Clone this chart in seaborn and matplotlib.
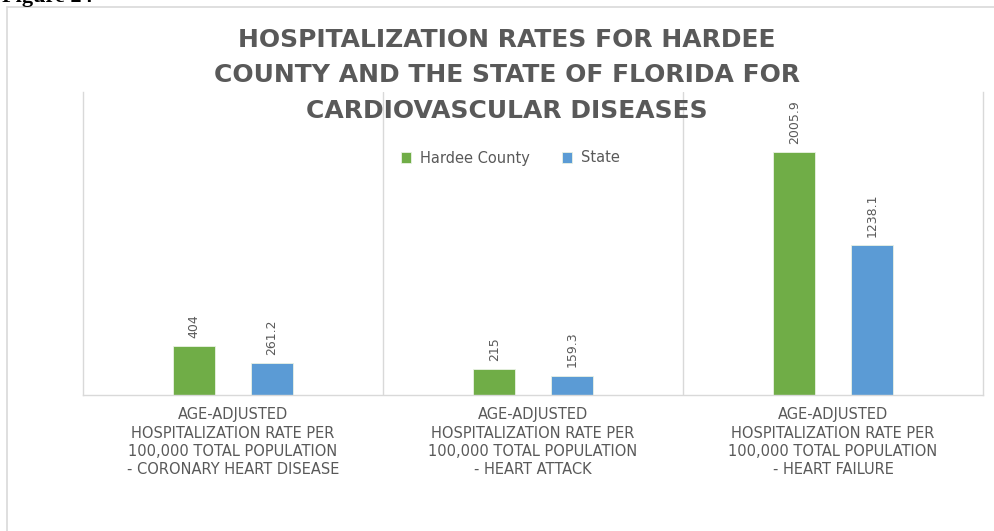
import matplotlib
matplotlib.use("Agg")
import matplotlib.pyplot as plt
from matplotlib.lines import Line2D
import seaborn as sns
import pandas as pd

# Chart data
categories = [
    "AGE-ADJUSTED\nHOSPITALIZATION RATE PER\n100,000 TOTAL POPULATION\n- CORONARY HEART DISEASE",
    "AGE-ADJUSTED\nHOSPITALIZATION RATE PER\n100,000 TOTAL POPULATION\n- HEART ATTACK",
    "AGE-ADJUSTED\nHOSPITALIZATION RATE PER\n100,000 TOTAL POPULATION\n- HEART FAILURE",
]
series_names = ["Hardee County", "State"]
hardee_values = [404, 215, 2005.9]
state_values = [261.2, 159.3, 1238.1]
value_labels = [["404", "215", "2005.9"], ["261.2", "159.3", "1238.1"]]
title_lines = ["HOSPITALIZATION RATES FOR HARDEE",
               "COUNTY AND THE STATE OF FLORIDA FOR",
               "CARDIOVASCULAR DISEASES"]

df = pd.DataFrame({
    "category": categories * 2,
    "series": [series_names[0]] * 3 + [series_names[1]] * 3,
    "value": hardee_values + state_values,
})

sns.set_style("white")
plt.rcParams["font.family"] = ["DejaVu Sans"]

text_gray = "#595959"
grid_gray = "#D9D9D9"
colors = {"Hardee County": "#70AD47", "State": "#5B9BD5"}

fig = plt.figure(figsize=(9.94, 5.31), dpi=100)
ax = fig.add_axes([83 / 994, 136 / 531, 900 / 994, 303 / 531])

sns.barplot(data=df, x="category", y="value", hue="series",
            order=categories, hue_order=series_names, palette=colors,
            saturation=1, width=0.516, gap=0.457,
            edgecolor="#EAF2E4", linewidth=0.6, ax=ax)

# value labels above bars
for cont, labels in zip(ax.containers, value_labels):
    ax.bar_label(cont, labels=labels, rotation=90, padding=6,
                 fontsize=9, color=text_gray)

ax.set_ylim(0, 2500)
ax.set_xlim(-0.5, 2.5)
ax.set_yticks([])
ax.set_xlabel("")
ax.set_ylabel("")
ax.set_xticks([0.5, 1.5], minor=True)
ax.grid(which="minor", axis="x", color=grid_gray, linewidth=1)
ax.tick_params(axis="x", which="both", length=0, pad=9,
               labelsize=10.5, labelcolor=text_gray)
for lbl in ax.get_xticklabels():
    lbl.set_linespacing(1.25)
ax.spines["top"].set_visible(False)
for s in ["left", "right", "bottom"]:
    ax.spines[s].set_color(grid_gray)
    ax.spines[s].set_linewidth(1)

# legend
ax.legend(loc="center", bbox_to_anchor=(510 / 994, 1 - 158 / 531),
          bbox_transform=fig.transFigure, ncol=2, frameon=False,
          handlelength=0.7, handleheight=0.7, handletextpad=0.6,
          columnspacing=2.2, fontsize=10.5, labelcolor=text_gray)

# title, one text per line
for line, ypix in zip(title_lines, [40, 75, 111]):
    fig.text(507 / 994, 1 - ypix / 531, line, ha="center", va="center",
             fontsize=18, fontweight="bold", color=text_gray)

# outer frame of the chart
fig.add_artist(Line2D([7 / 994, 7 / 994], [0, 1 - 7 / 531],
                      transform=fig.transFigure, color=grid_gray, lw=1.2))
fig.add_artist(Line2D([7 / 994, 1], [1 - 7 / 531, 1 - 7 / 531],
                      transform=fig.transFigure, color=grid_gray, lw=1.2))

# page caption, clipped at top edge as in the source page
fig.text(2 / 994, 1 - 2 / 531, "Figure 24", ha="left", va="baseline",
         fontsize=16, fontweight="bold", family="Liberation Serif",
         color="black")

fig.savefig("out.png", dpi=100)
